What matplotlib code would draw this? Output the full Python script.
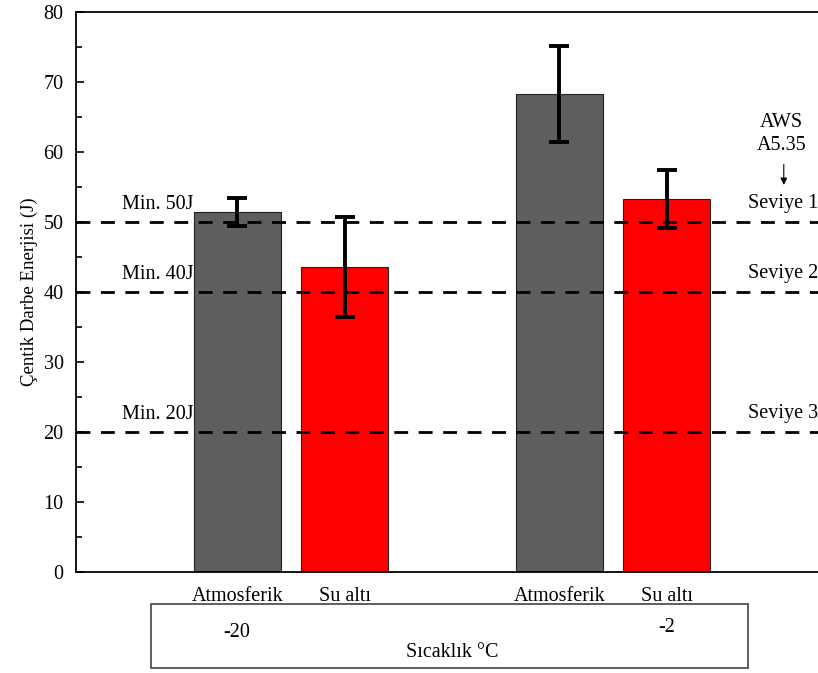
import matplotlib.pyplot as plt
from matplotlib.patches import Rectangle
from matplotlib.ticker import MultipleLocator

plt.rcParams['font.family'] = ['Liberation Serif', 'DejaVu Serif']

# data
labels = ['Atmosferik', 'Su altı', 'Atmosferik', 'Su altı']
positions = [1, 2, 4, 5]
energy = [51.4, 43.6, 68.3, 53.3]
energy_err = [2.0, 7.1, 6.8, 4.1]
bar_colors = ['#5e5e5e', '#ff0000', '#5e5e5e', '#ff0000']
temps = ['-20', '-2']
limit_values = [50, 40, 20]
limit_left = ['Min. 50J', 'Min. 40J', 'Min. 20J']
limit_right = ['Seviye 1', 'Seviye 2', 'Seviye 3']

fs = 14.5

fig = plt.figure(figsize=(8.18, 6.73), dpi=100)
ax = fig.add_axes([0.093, 1 - 572 / 673, 0.919, 560 / 673])

ax.bar(positions, energy, width=0.81, color=bar_colors, edgecolor='#222222',
       linewidth=0.8, zorder=2)
ax.errorbar(positions, energy, yerr=energy_err, fmt='none', ecolor='black',
            elinewidth=2.8, capsize=7, capthick=2.8, zorder=4)

for val, lt, rt in zip(limit_values, limit_left, limit_right):
    ax.axhline(val, color='black', lw=2, ls=(0, (5, 3.8)), zorder=3)
    ax.text(0.26, val + 2.5, lt, fontsize=fs, ha='center', va='center')
    ax.text(5.76, val + 2.6, rt, fontsize=fs, ha='left', va='center')

ax.text(6.07, 64.2, 'AWS', fontsize=fs, ha='center', va='center')
ax.text(6.07, 61.0, 'A5.35', fontsize=fs, ha='center', va='center')
ax.annotate('', xy=(6.09, 54.9), xytext=(6.09, 58.6),
            arrowprops=dict(arrowstyle='-|>', color='black', lw=0.8,
                            mutation_scale=10))

ax.set_xlim(-0.5, 6.5)
ax.set_ylim(0, 80)
ax.yaxis.set_major_locator(MultipleLocator(10))
ax.yaxis.set_minor_locator(MultipleLocator(5))
ax.tick_params(axis='y', which='major', direction='in', length=6, width=1.2,
               labelsize=fs, pad=9)
ax.tick_params(axis='y', which='minor', direction='in', length=4, width=1.2)
ax.set_xticks(positions)
ax.set_xticklabels(labels, fontsize=fs)
ax.tick_params(axis='x', length=0, pad=11)
ax.set_ylabel('Çentik Darbe Enerjisi (J)', fontsize=13.5, labelpad=4)
for s in ['left', 'bottom', 'top']:
    ax.spines[s].set_linewidth(1.3)
ax.spines['right'].set_visible(False)

# category box below the axis
box = Rectangle((151 / 818, 1 - 668 / 673), (748 - 151) / 818, 64 / 673,
                transform=fig.transFigure, fill=False, edgecolor='#444444',
                linewidth=1.2)
fig.patches.append(box)
ax.text(1, -8.6, temps[0], fontsize=fs, ha='center', va='center')
ax.text(5, -8.0, temps[1], fontsize=fs, ha='center', va='center')
ax.text(3, -11.5, 'Sıcaklık °C', fontsize=fs, ha='center', va='center')

plt.savefig('out.png', dpi=100)
